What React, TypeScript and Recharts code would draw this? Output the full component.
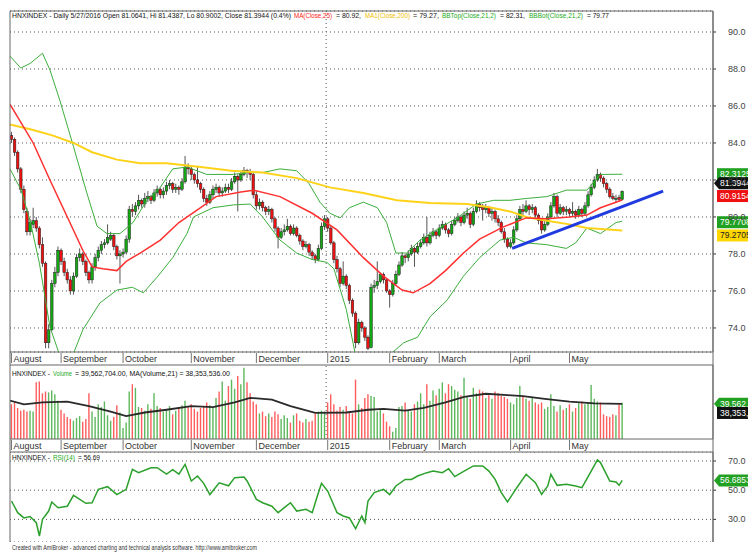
import React from "react";
import { ComposedChart, Bar, Line, XAxis, YAxis, CartesianGrid, ReferenceLine, Cell } from "recharts";

const FONT = "'Liberation Sans Narrow', 'Arial Narrow', 'Liberation Sans', Arial, sans-serif";

// month ticks (bar index of first session) and labels
const monthIdx = [0, 16, 36, 58, 79, 102, 122, 138, 161, 180];
const monthLabels = ["August", "September", "October", "November", "December", "2015", "February", "March", "April", "May"];

const priceTicks = [74, 76, 78, 80, 82, 84, 86, 88, 90];
const rsiTicks = [30, 50, 70];

// daily OHLC
const opens = [
  84.4, 84.2, 83.5, 82.6, 81.5, 80.3, 79.2, 79.6, 79.8, 79.4,
  78.5, 77.5, 73.2, 73.9, 76.4, 77.0, 78.2, 77.6, 77.0, 76.6,
  76.0, 76.8, 77.8, 78.0, 77.6, 77.0, 76.6, 77.3, 77.8, 78.2,
  78.5, 78.6, 78.8, 79.0, 78.4, 77.9, 78.0, 78.1, 78.8, 80.4,
  80.3, 80.6, 80.9, 80.7, 81.0, 81.1, 80.9, 81.3, 81.5, 81.2,
  81.4, 81.7, 81.8, 81.5, 81.6, 81.5, 81.9, 82.7, 82.6, 82.3,
  82.0, 81.8, 81.5, 81.0, 80.8, 81.2, 81.5, 81.6, 81.3, 81.4,
  81.6, 81.5, 81.9, 82.2, 82.0, 82.3, 82.5, 82.4, 82.3, 81.2,
  80.6, 80.8, 80.5, 80.3, 80.4, 79.9, 79.4, 78.9, 79.2, 79.3,
  79.5, 79.1, 79.4, 79.0, 78.7, 78.4, 78.5, 78.1, 77.9, 77.7,
  78.3, 79.5, 79.9, 79.4, 78.6, 77.7, 77.2, 76.4, 76.8, 76.3,
  75.5, 74.8, 73.2, 74.3, 74.0, 73.5, 72.95, 76.2, 76.3, 76.5,
  76.9, 76.6, 76.0, 75.8, 76.4, 76.9, 77.4, 77.9, 77.8, 78.0,
  78.3, 78.1, 78.4, 78.6, 78.9, 78.6, 79.0, 79.2, 79.0, 79.4,
  79.6, 79.3, 79.1, 79.6, 79.8, 80.0, 79.7, 80.1, 80.2, 79.6,
  80.3, 80.7, 80.5, 80.4, 80.5, 80.2, 80.3, 79.9, 79.7, 79.2,
  78.8, 78.4, 78.6, 79.3, 79.9, 80.4, 80.3, 80.6, 80.4, 80.5,
  80.1, 79.8, 79.3, 79.6, 80.0, 80.6, 81.1, 80.2, 80.5, 80.3,
  80.4, 80.2, 80.3, 80.1, 80.4, 80.2, 80.6, 81.2, 81.6, 82.0,
  82.3, 82.1, 81.8, 81.5, 81.1, 81.0, 81.05, 80.95,
];
const highs = [
  84.6, 84.3, 83.6, 82.7, 81.7, 80.5, 79.9, 80.5, 80.0, 79.5,
  78.9, 77.6, 74.2, 76.6, 77.3, 78.4, 78.3, 77.8, 77.2, 76.8,
  77.0, 78.0, 78.3, 78.1, 77.7, 77.1, 77.5, 78.0, 78.4, 78.7,
  78.8, 79.6, 79.2, 79.1, 78.5, 78.2, 78.3, 79.0, 80.6, 80.7,
  80.8, 81.2, 81.0, 81.3, 81.4, 81.2, 81.5, 81.7, 81.6, 81.6,
  81.9, 82.0, 81.9, 81.8, 81.7, 82.1, 83.3, 82.9, 82.7, 82.4,
  82.7, 81.9, 81.6, 81.2, 81.4, 81.7, 81.8, 81.7, 81.6, 81.8,
  81.8, 82.1, 82.4, 82.3, 82.5, 82.7, 82.6, 82.6, 82.4, 81.4,
  81.0, 80.9, 80.6, 80.6, 80.5, 80.0, 79.5, 79.4, 79.6, 79.9,
  79.6, 79.6, 79.5, 79.1, 78.8, 78.7, 78.6, 78.2, 78.0, 78.5,
  79.7, 80.1, 80.0, 79.5, 78.7, 77.9, 77.3, 77.6, 76.9, 76.4,
  75.6, 74.9, 74.5, 74.4, 74.1, 73.6, 76.4, 76.6, 77.6, 77.0,
  77.0, 76.7, 76.1, 76.6, 77.1, 77.6, 78.1, 78.0, 78.2, 78.5,
  78.4, 78.6, 78.8, 79.1, 80.0, 79.2, 79.4, 79.3, 79.6, 79.8,
  79.7, 79.4, 79.8, 80.0, 80.2, 80.1, 80.3, 80.5, 80.3, 80.5,
  80.9, 80.8, 80.7, 80.7, 80.6, 80.5, 80.4, 80.1, 79.8, 79.4,
  78.9, 78.8, 79.5, 80.1, 80.6, 80.7, 80.9, 80.7, 80.7, 80.6,
  80.2, 79.9, 79.8, 80.2, 80.8, 81.3, 81.2, 80.7, 80.6, 80.6,
  80.5, 80.8, 80.4, 80.6, 80.5, 80.8, 81.4, 81.8, 82.2, 82.6,
  82.4, 82.2, 81.9, 81.6, 81.3, 81.2, 81.2, 81.44,
];
const lows = [
  84.0, 83.3, 82.4, 81.3, 80.2, 79.0, 79.0, 79.4, 79.2, 78.3,
  77.3, 72.9, 72.9, 73.8, 76.2, 76.8, 77.4, 76.8, 76.4, 75.8,
  75.8, 76.7, 77.6, 77.4, 76.8, 76.4, 76.4, 77.1, 77.6, 78.0,
  78.3, 78.5, 78.7, 78.2, 77.7, 76.4, 77.8, 78.0, 78.6, 80.0,
  80.1, 80.4, 80.5, 80.5, 80.8, 80.7, 80.8, 81.1, 81.0, 81.0,
  81.2, 81.5, 81.3, 81.3, 81.2, 81.4, 81.8, 82.3, 82.0, 81.8,
  81.6, 81.3, 80.8, 80.6, 80.7, 81.0, 81.3, 81.1, 81.1, 81.3,
  81.3, 81.4, 81.8, 80.3, 81.9, 82.2, 82.1, 82.0, 81.0, 80.4,
  80.4, 80.3, 80.1, 80.1, 79.7, 79.2, 78.3, 78.8, 79.0, 79.2,
  79.0, 79.0, 78.9, 78.5, 78.2, 78.3, 77.9, 77.7, 77.5, 77.6,
  78.2, 79.3, 79.2, 78.5, 77.5, 77.0, 76.2, 76.3, 76.1, 75.3,
  74.6, 72.9, 73.1, 73.8, 73.3, 72.8, 72.9, 75.9, 76.1, 76.4,
  76.4, 75.9, 75.1, 75.7, 76.3, 76.8, 77.3, 77.5, 77.6, 77.9,
  77.3, 78.0, 78.3, 78.5, 78.4, 78.5, 78.9, 78.8, 78.9, 79.3,
  79.1, 78.9, 79.0, 79.5, 79.7, 79.5, 79.6, 79.9, 79.4, 79.5,
  80.2, 80.3, 79.8, 80.2, 80.0, 79.8, 79.7, 79.5, 79.1, 78.6,
  78.3, 78.3, 78.5, 79.2, 79.8, 80.0, 80.2, 80.1, 80.2, 79.9,
  79.6, 79.1, 79.2, 79.5, 79.9, 80.5, 80.0, 80.1, 80.1, 80.1,
  80.0, 80.0, 79.9, 80.0, 80.0, 80.1, 80.5, 81.1, 81.5, 81.9,
  81.9, 81.6, 81.3, 81.0, 80.9, 80.8, 80.85, 80.9,
];
const closes = [
  84.2, 83.5, 82.6, 81.5, 80.4, 79.2, 79.7, 79.8, 79.4, 78.5,
  77.5, 73.2, 73.9, 76.4, 77.0, 78.2, 77.6, 77.0, 76.6, 76.0,
  76.8, 77.8, 78.0, 77.6, 77.0, 76.6, 77.3, 77.8, 78.2, 78.5,
  78.6, 78.9, 79.0, 78.4, 77.9, 78.0, 78.1, 78.8, 80.4, 80.3,
  80.6, 80.9, 80.7, 81.0, 81.1, 80.9, 81.3, 81.5, 81.2, 81.4,
  81.7, 81.8, 81.5, 81.6, 81.5, 81.9, 82.7, 82.6, 82.3, 82.0,
  81.8, 81.5, 81.0, 80.8, 81.2, 81.5, 81.6, 81.3, 81.4, 81.6,
  81.5, 81.9, 82.2, 82.0, 82.3, 82.5, 82.4, 82.3, 81.2, 80.6,
  80.8, 80.5, 80.3, 80.4, 79.9, 79.4, 78.9, 79.2, 79.3, 79.5,
  79.1, 79.4, 79.0, 78.7, 78.4, 78.5, 78.1, 77.9, 77.7, 78.3,
  79.5, 79.9, 79.4, 78.6, 77.7, 77.2, 76.4, 76.8, 76.3, 75.5,
  74.8, 73.2, 74.3, 74.0, 73.5, 72.9, 76.2, 76.3, 76.5, 76.9,
  76.6, 76.0, 75.8, 76.4, 76.9, 77.4, 77.9, 77.8, 78.0, 78.3,
  78.1, 78.4, 78.6, 78.9, 78.6, 79.0, 79.2, 79.0, 79.4, 79.6,
  79.3, 79.1, 79.6, 79.8, 80.0, 79.7, 80.1, 80.2, 79.6, 80.3,
  80.7, 80.5, 80.4, 80.5, 80.2, 80.3, 79.9, 79.7, 79.2, 78.8,
  78.4, 78.6, 79.3, 79.9, 80.4, 80.3, 80.6, 80.4, 80.5, 80.1,
  79.8, 79.3, 79.6, 80.0, 80.6, 81.1, 80.2, 80.5, 80.3, 80.4,
  80.2, 80.3, 80.1, 80.4, 80.2, 80.6, 81.2, 81.6, 82.0, 82.3,
  82.1, 81.8, 81.5, 81.1, 81.0, 81.0, 80.95, 81.39,
];

// volume in millions of shares
const volumes = [
  38, 40, 34, 31, 32, 30, 31, 30, 62, 63,
  50, 52, 51, 53, 49, 42, 32, 28, 24, 22,
  20, 23, 25, 19, 22, 50, 30, 24, 38, 35,
  41, 26, 20, 24, 37, 29, 12, 18, 52, 60,
  56, 35, 34, 31, 38, 33, 50, 36, 34, 30,
  32, 36, 27, 31, 35, 37, 42, 36, 38, 33,
  30, 34, 36, 40, 37, 34, 45, 52, 63, 42,
  58, 65, 55, 69, 60, 78, 62, 50, 41, 38,
  28, 30, 25, 28, 24, 30, 27, 22, 26, 23,
  18, 26, 28, 20, 18, 22, 19, 20, 28, 30,
  31, 30, 40, 49, 38, 31, 35, 32, 36, 30,
  28, 65, 38, 34, 45, 49, 47, 46, 30, 32,
  28, 19, 14, 8, 12, 35, 36, 40, 32, 30,
  38, 41, 50, 38, 60, 42, 53, 48, 55, 62,
  50, 60, 58, 54, 52, 48, 67, 46, 44, 56,
  50, 54, 52, 45, 48, 44, 52, 50, 47, 46,
  44, 40, 38, 45, 58, 47, 44, 42, 45, 40,
  38, 40, 33, 35, 49, 36, 30, 37, 32, 34,
  38, 30, 34, 39, 41, 38, 40, 59, 44, 41,
  40, 27, 25, 24, 27, 26, 38, 39.56,
];

// indicator lines, [bar index, value] read at visible turning points
const ma25 = [
  [-0.5, 86.1], [7, 84.0], [12.4, 82.0], [18, 80.0], [23, 78.2], [26, 77.3], [29.5, 77.2], [34, 77.1],
  [37, 77.6], [41.5, 78.05], [48, 78.75], [54, 79.7], [61, 80.5], [66, 81.1], [74, 81.35], [78, 81.45],
  [86.6, 81.1], [97, 80.2], [105, 79.3], [113.5, 77.8], [120, 76.8], [126, 76.05], [129.6, 75.9],
  [135, 76.4], [140, 77.1], [145.8, 78.05], [151, 78.8], [158.5, 79.45], [166, 79.95], [172.7, 79.9],
  [180, 80.0], [185.6, 80.1], [190, 80.5], [197, 80.92],
];
const ma200 = [
  [-0.5, 85.0], [7, 84.7], [13.4, 84.4], [20, 84.0], [26, 83.5], [34, 83.1], [41.5, 82.9], [50, 82.9],
  [61, 82.7], [71, 82.5], [81, 82.4], [92, 82.1], [102.7, 81.6], [113.5, 81.3], [124.3, 80.9],
  [135, 80.75], [147, 80.7], [155, 80.5], [160.8, 80.3], [166, 80.0], [172.7, 79.8], [180, 79.6],
  [185.6, 79.4], [197, 79.27],
];
const bbTop = [
  [-0.5, 88.7], [3, 88.05], [6, 88.3], [10, 88.85], [12.4, 87.95], [15.6, 86.3], [20, 83.8], [24.3, 81.3],
  [27.6, 79.5], [30.8, 79.1], [35, 79.1], [39.2, 79.7], [43.7, 80.9], [48, 81.6], [52, 82.6], [56.6, 82.7],
  [63, 82.3], [71.5, 82.3], [76, 82.4], [81, 82.4], [86.6, 82.6], [92, 82.5], [96, 81.8], [99.5, 80.8],
  [102.7, 80.2], [106, 79.95], [109, 80.5], [113.5, 80.8], [118, 80.5], [121, 79.7], [124, 78.05],
  [127.5, 78.05], [131.8, 78.75], [137, 79.3], [143.7, 79.95], [150, 80.7], [155.5, 80.9], [160.8, 80.9],
  [166, 81.0], [172.7, 81.1], [179, 81.45], [185.6, 81.45], [190, 82.3], [197, 82.31],
];
const bbBot = [
  [-0.5, 82.6], [3, 81.5], [6, 79.8], [9, 77.5], [12.4, 74.05], [15.6, 72.5], [19, 72.2], [23, 73.9],
  [28.5, 75.35], [34, 76.05], [39, 76.2], [42.5, 75.9], [47, 76.75], [52, 77.8], [56.6, 79.1], [58.7, 80.0],
  [65, 80.5], [71.5, 80.65], [77, 80.7], [81, 80.0], [86.6, 78.75], [92, 78.05], [97, 77.7], [101.7, 77.55],
  [104, 77.2], [108, 75.0], [111, 72.5], [116, 71.5], [121, 72.4], [126.5, 73.2], [131, 73.5], [135, 74.6],
  [140.5, 75.5], [145.8, 76.8], [151, 77.8], [157.6, 78.75], [162, 78.9], [166, 78.6], [172.7, 78.5],
  [179, 78.3], [182, 78.6], [185.6, 79.4], [190, 79.1], [195, 79.7], [197, 79.77],
];
const trend = [[161.5, 78.3], [210.2, 81.4]];
const volMa = [
  [-0.5, 42], [4, 38], [10, 40], [18, 41], [25, 36], [32, 30], [37, 25], [43, 29], [50, 32], [58, 36],
  [65, 35], [72, 40], [77, 45], [84, 43], [90, 36], [98, 28.5], [108, 29], [115, 32], [120, 33], [127, 31],
  [133, 34], [140, 40], [146, 46], [153, 49.5], [160, 48], [165, 47], [172, 44], [180, 41], [188, 39],
  [197, 38.35],
];
const rsi = [
  [0, 42.6], [2, 34.6], [4, 31], [6, 32], [8, 27.7], [9, 18.6], [10, 30], [12, 35.7], [13, 41.9], [15, 38],
  [18, 39], [20, 46.5], [24, 41], [26, 41.4], [28, 50.6], [31, 52.4], [34, 47], [37, 50.6], [39, 64.3],
  [41, 62], [45, 65.4], [47, 65.4], [50, 61], [52, 64], [54, 61], [56, 67.7], [58, 56.3], [60, 59.7],
  [62, 54.7], [64, 47], [67, 55], [70, 53], [72, 58.6], [75, 59], [76, 56.3], [79, 43.7], [81, 41.4],
  [84, 39], [86, 34.6], [88, 38], [90, 41.4], [92, 35.7], [95, 36.9], [97, 34.6], [99, 48.3], [100, 54.7],
  [102, 49.4], [105, 34.6], [107, 32.3], [109, 31], [111, 23.6], [113, 32.3], [114, 27.7], [115, 42.6],
  [117, 48.3], [120, 50.6], [122, 47], [124, 52.9], [127, 57.4], [129, 57.4], [131, 59.7], [134, 62],
  [136, 63.1], [139, 62], [141, 64.7], [143, 59.3], [146, 63.1], [149, 66.6], [152, 66.6], [154, 63.1],
  [156, 57.4], [158, 48.3], [160, 41.9], [163, 51.7], [166, 60.9], [169, 55.1], [171, 47.1], [173, 52.9],
  [174, 60.9], [176, 53.3], [179, 54], [182, 52.9], [184, 51.7], [187, 63.1], [189, 70.7], [190, 68.9],
  [193, 56.3], [195, 55.6], [196, 53.3], [197, 56.69],
];

// title pieces: [text, colour, x start, x end, baseline]
const titles = [
  ["HNXINDEX - Daily 5/27/2016 Open 81.0641, Hi 81.4387, Lo 80.9002, Close 81.3944 (0.4%)", "#111", 12, 291, 18],
  ["MA(Close,25)", "#ff2020", 294, 332, 18],
  ["= 80.92,", "#111", 336, 361, 18],
  ["MA1(Close,200)", "#f0c000", 365, 410, 18],
  ["= 79.27,", "#111", 413, 439, 18],
  ["BBTop(Close,21,2)", "#22aa22", 442, 496, 18],
  ["= 82.31,", "#111", 500, 525, 18],
  ["BBBot(Close,21,2)", "#22aa22", 529, 583, 18],
  ["= 79.77", "#111", 587, 609, 18],
  ["HNXINDEX -", "#111", 12, 50, 376],
  ["Volume", "#22aa22", 53, 72, 376],
  ["= 39,562,704.00, MA(Volume,21) = 38,353,536.00", "#111", 75, 230, 376],
  ["HNXINDEX -", "#111", 12, 50, 460],
  ["RSI(14)", "#22aa22", 53, 75, 460],
  ["= 56.69", "#111", 78, 100, 460],
];

const X_DOMAIN: [number, number] = [-0.484, 226.29];
const W = 748;
const MARGIN = { top: 0, right: 0, bottom: 0, left: 10 };

const candleData = closes.map((c, i) => ({ i, o: opens[i], h: highs[i], l: lows[i], c, range: [lows[i], highs[i]] }));
const volData = volumes.map((v, i) => ({ i, v, up: closes[i] >= opens[i] }));
const pts = (arr: number[][]) => arr.map(([i, v]) => ({ i, v }));

const Candle = (props: any) => {
  const { x, y, width, height, payload } = props;
  if (!payload) return null;
  const top = Math.min(y, y + height);
  const h = Math.abs(height);
  const cx = x + width / 2;
  const { o, c, h: hi, l: lo } = payload;
  const py = (v: number) => top + ((hi - v) / (hi - lo)) * h;
  const up = c >= o;
  const b1 = py(Math.max(o, c));
  const b2 = py(Math.min(o, c));
  return (
    <g>
      <line x1={cx} x2={cx} y1={top} y2={top + h} stroke="#555" strokeWidth={1} />
      <rect x={cx - 1.3} y={b1} width={2.6} height={Math.max(1, b2 - b1)} fill={up ? "#13a813" : "#ee1111"} stroke="#222" strokeWidth={0.5} />
    </g>
  );
};

const MonthTick = (props: any) => {
  const { x, y, payload } = props;
  const k = monthIdx.indexOf(payload.value);
  return (
    <g>
      <line x1={x} x2={x} y1={y + 1} y2={y + 11} stroke="#777" />
      <text x={x + 2} y={y + 10} fontSize={9} fontFamily={FONT} fill="#333">{monthLabels[k]}</text>
    </g>
  );
};

const ValueTick = (props: any) => {
  const { x, y, payload } = props;
  return (
    <text x={x + 12} y={y + 3} fontSize={9} fontFamily={FONT} fill="#444">{Number(payload.value).toFixed(1)}</text>
  );
};

const badge = (text: string, fill: string, color: string, dy: number, arrow: boolean) => (props: any) => {
  const vb = props.viewBox;
  if (!vb) return null;
  const x0 = vb.x + vb.width;
  const cy = vb.y + dy;
  return (
    <g>
      {arrow ? (
        <polygon points={`${x0 + 1},${cy} ${x0 + 6},${cy - 6} ${x0 + 45},${cy - 6} ${x0 + 45},${cy + 6} ${x0 + 6},${cy + 6}`} fill={fill} />
      ) : (
        <rect x={x0 + 4} y={cy - 6} width={41} height={12} fill={fill} />
      )}
      <text x={x0 + 7} y={cy + 3} fontSize={8.5} fontFamily={FONT} fill={color}>{text}</text>
    </g>
  );
};

export default function App() {
  return (
    <div style={{ position: "absolute", left: 0, top: 0, width: W, height: 552, background: "#fff", overflow: "hidden" }}>
      {/* price panel */}
      <div style={{ position: "absolute", left: 0, top: 0 }}>
        <ComposedChart width={W} height={365} data={candleData} margin={{ ...MARGIN, top: 11 }}>
          <CartesianGrid vertical={false} stroke="#555" strokeDasharray="1 3" />
          <XAxis dataKey="i" type="number" domain={X_DOMAIN} allowDataOverflow ticks={monthIdx} interval={0}
            tick={<MonthTick />} tickLine={false} tickSize={0} tickMargin={0} height={13} axisLine={{ stroke: "#666" }} />
          <YAxis orientation="right" width={35} domain={[72.7, 91.135]} allowDataOverflow ticks={priceTicks}
            tick={<ValueTick />} tickSize={3} tickMargin={0} tickLine={{ stroke: "#333" }} axisLine={{ stroke: "#666" }} />
          <ReferenceLine x={101.5} stroke="#555" strokeDasharray="1 3" />
          <Bar dataKey="range" barSize={3} shape={<Candle />} isAnimationActive={false} />
          <Line data={pts(bbTop)} dataKey="v" stroke="#3cae3c" strokeWidth={1} dot={false} isAnimationActive={false} />
          <Line data={pts(bbBot)} dataKey="v" stroke="#3cae3c" strokeWidth={1} dot={false} isAnimationActive={false} />
          <Line data={pts(ma200)} dataKey="v" stroke="#ffd21a" strokeWidth={2} dot={false} isAnimationActive={false} />
          <Line data={pts(ma25)} dataKey="v" stroke="#ff3030" strokeWidth={1.5} dot={false} isAnimationActive={false} />
          <Line data={pts(trend)} dataKey="v" stroke="#1f3be0" strokeWidth={3} dot={false} isAnimationActive={false} />
          <ReferenceLine y={82.3125} stroke="none" label={badge("82.3125", "#22a022", "#fff", 0, false)} />
          <ReferenceLine y={81.3944} stroke="none" label={badge("81.3944", "#111", "#fff", -8, true)} />
          <ReferenceLine y={80.9154} stroke="none" label={badge("80.9154", "#ee1111", "#fff", -4, false)} />
          <ReferenceLine y={79.7708} stroke="none" label={badge("79.7708", "#22a022", "#fff", 1, false)} />
          <ReferenceLine y={79.2705} stroke="none" label={badge("79.2705", "#ffd700", "#222", 5, false)} />
        </ComposedChart>
      </div>

      {/* volume panel */}
      <div style={{ position: "absolute", left: 0, top: 365 }}>
        <ComposedChart width={W} height={87} data={volData} margin={MARGIN}>
          <XAxis dataKey="i" type="number" domain={X_DOMAIN} allowDataOverflow ticks={monthIdx} interval={0}
            tick={<MonthTick />} tickLine={false} tickSize={0} tickMargin={0} height={13} axisLine={{ stroke: "#666" }} />
          <YAxis orientation="right" width={35} domain={[0, 81]} allowDataOverflow tick={false} tickLine={false} axisLine={{ stroke: "#666" }} />
          <ReferenceLine x={101.5} stroke="#555" strokeDasharray="1 3" />
          <Bar dataKey="v" barSize={2} isAnimationActive={false}>
            {volData.map((d) => (
              <Cell key={d.i} fill={d.up ? "#5cb85c" : "#ff5c5c"} />
            ))}
          </Bar>
          <Line data={pts(volMa)} dataKey="v" stroke="#2a2a2a" strokeWidth={1.8} dot={false} isAnimationActive={false} />
          <ReferenceLine y={39.5627} stroke="none" label={badge("39,562,704", "#22a022", "#fff", 1, true)} />
          <ReferenceLine y={38.3535} stroke="none" label={badge("38,353,536", "#111", "#fff", 9, false)} />
        </ComposedChart>
      </div>

      {/* RSI panel */}
      <div style={{ position: "absolute", left: 0, top: 452 }}>
        <ComposedChart width={W} height={90} margin={MARGIN}>
          <CartesianGrid vertical={false} stroke="#555" strokeDasharray="1 3" />
          <XAxis dataKey="i" type="number" domain={X_DOMAIN} allowDataOverflow hide />
          <YAxis orientation="right" width={35} domain={[14.5, 76.16]} allowDataOverflow ticks={rsiTicks}
            tick={<ValueTick />} tickSize={3} tickMargin={0} tickLine={{ stroke: "#333" }} axisLine={{ stroke: "#666" }} />
          <Line data={pts(rsi)} dataKey="v" stroke="#2ca02c" strokeWidth={1.5} dot={false} isAnimationActive={false} />
          <ReferenceLine y={56.6853} stroke="none" label={badge("56.6853", "#22a022", "#fff", 0, true)} />
        </ComposedChart>
      </div>

      {/* frame and titles */}
      <svg width={W} height={552} style={{ position: "absolute", left: 0, top: 0, pointerEvents: "none" }}>
        <line x1={10} x2={10} y1={11} y2={542} stroke="#666" />
        <line x1={713} x2={713} y1={11} y2={542} stroke="#666" />
        <line x1={10} x2={713} y1={11} y2={11} stroke="#666" />
        <line x1={10} x2={713} y1={365} y2={365} stroke="#666" />
        <line x1={10} x2={713} y1={452} y2={452} stroke="#666" />
        {titles.map(([t, col, x0, x1, by], k) => (
          <text key={k} x={Number(x0)} y={Number(by)} fontSize={8} fontFamily={FONT} fill={String(col)}
            textLength={Number(x1) - Number(x0)} lengthAdjust="spacingAndGlyphs">{t}</text>
        ))}
        <text x={12} y={550} fontSize={7} fontFamily={FONT} fill="#333" textLength={245} lengthAdjust="spacingAndGlyphs">
          Created with AmiBroker - advanced charting and technical analysis software. http://www.amibroker.com
        </text>
      </svg>
    </div>
  );
}
